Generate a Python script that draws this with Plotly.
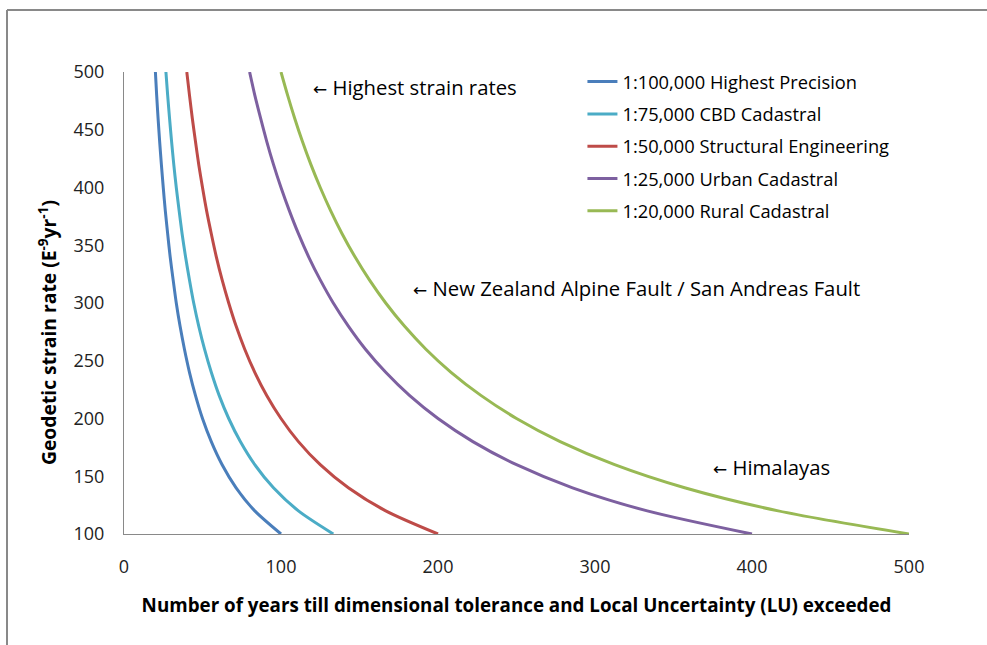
import plotly.graph_objects as go

strain_rate = [100, 120, 140, 160, 180, 200, 220, 240, 260, 280, 300,
               320, 340, 360, 380, 400, 420, 440, 460, 480, 500]

years_100k = [100, 83.3, 71.4, 62.5, 55.6, 50, 45.5, 41.7, 38.5, 35.7, 33.3,
              31.3, 29.4, 27.8, 26.3, 25, 23.8, 22.7, 21.7, 20.8, 20]
years_75k = [133.3, 111.1, 95.2, 83.3, 74.1, 66.7, 60.6, 55.6, 51.3, 47.6, 44.4,
             41.7, 39.2, 37.0, 35.1, 33.3, 31.7, 30.3, 29.0, 27.8, 26.7]
years_50k = [200, 166.7, 142.9, 125, 111.1, 100, 90.9, 83.3, 76.9, 71.4, 66.7,
             62.5, 58.8, 55.6, 52.6, 50, 47.6, 45.5, 43.5, 41.7, 40]
years_25k = [400, 333.3, 285.7, 250, 222.2, 200, 181.8, 166.7, 153.8, 142.9, 133.3,
             125, 117.6, 111.1, 105.3, 100, 95.2, 90.9, 87.0, 83.3, 80]
years_20k = [500, 416.7, 357.1, 312.5, 277.8, 250, 227.3, 208.3, 192.3, 178.6, 166.7,
             156.3, 147.1, 138.9, 131.6, 125, 119.0, 113.6, 108.7, 104.2, 100]

series_names = ["1:100,000 Highest Precision", "1:75,000 CBD Cadastral",
                "1:50,000 Structural Engineering", "1:25,000 Urban Cadastral",
                "1:20,000 Rural Cadastral"]
series_values = [years_100k, years_75k, years_50k, years_25k, years_20k]
series_colors = ["#4A7EBB", "#4BACC6", "#BE4B48", "#7D60A0", "#98B954"]

x_ticks = [0, 100, 200, 300, 400, 500]
y_ticks = [100, 150, 200, 250, 300, 350, 400, 450, 500]

notes = [("Highest strain rates", 119, 487),
         ("New Zealand Alpine Fault / San Andreas Fault", 183, 313),
         ("Himalayas", 374, 158)]

FONT = "Open Sans"
ARROW = '<span style="font-family:DejaVu Sans;font-size:17px">←</span> '

fig = go.Figure()
for i, (name, vals, col) in enumerate(zip(series_names, series_values, series_colors)):
    fig.add_trace(go.Scatter(x=vals, y=strain_rate, mode="lines", name=name,
                             legendgroup=f"g{i}",
                             line=dict(color=col, width=3, shape="spline", smoothing=0.8)))

for text, xv, yv in notes:
    fig.add_annotation(x=xv, y=yv, text=ARROW + text, showarrow=False, xanchor="left",
                       yanchor="middle", font=dict(family=FONT, size=20.3, color="#000000"))

W, H = 987, 645
ml, mr, mt, mb = 124, 78, 72, 111
pw, ph = W - ml - mr, H - mt - mb

def px(x):
    return (x - ml) / pw

def py(y):
    return (H - mb - y) / ph

fig.add_annotation(xref="paper", yref="paper", x=px(48), y=py(333),
                   text="<b>Geodetic strain rate (E<sup>-9</sup>yr<sup>-1</sup>)</b>",
                   textangle=-90, showarrow=False, xanchor="center", yanchor="middle",
                   font=dict(family=FONT, size=19.3, color="#000000"))

frame = dict(color="#898989", width=2)
fig.add_shape(type="line", xref="paper", yref="paper", x0=px(7), x1=px(990),
              y0=py(10), y1=py(10), line=frame)
fig.add_shape(type="line", xref="paper", yref="paper", x0=px(7), x1=px(7),
              y0=py(10), y1=py(650), line=frame)

fig.update_layout(
    width=W, height=H,
    margin=dict(l=ml, r=mr, t=mt, b=mb, autoexpand=False),
    paper_bgcolor="white", plot_bgcolor="white",
    font=dict(family=FONT, size=17, color="#000000"),
    showlegend=True,
    legend=dict(x=0.584, y=1.019, xanchor="left", yanchor="top",
                font=dict(family=FONT, size=18.3, color="#000000"),
                tracegroupgap=5.5, bgcolor="rgba(0,0,0,0)"),
    xaxis=dict(range=[0, 500], tickvals=x_ticks, showgrid=False, zeroline=False,
               showline=True, linecolor="#898989", linewidth=1, ticks="",
               ticklabelstandoff=16, tickfont=dict(family=FONT, size=18, color="#222222"),
               title=dict(text="<b>Number of years till dimensional tolerance and Local Uncertainty (LU) exceeded</b>",
                          font=dict(family=FONT, size=18.8), standoff=22)),
    yaxis=dict(range=[100, 500], tickvals=y_ticks, showgrid=False, zeroline=False,
               showline=True, linecolor="#898989", linewidth=1, ticks="",
               ticklabelstandoff=15, tickfont=dict(family=FONT, size=18, color="#222222")),
)

fig.write_html("out.html", config={"displayModeBar": False},
               post_script="document.body.style.margin='0';")
